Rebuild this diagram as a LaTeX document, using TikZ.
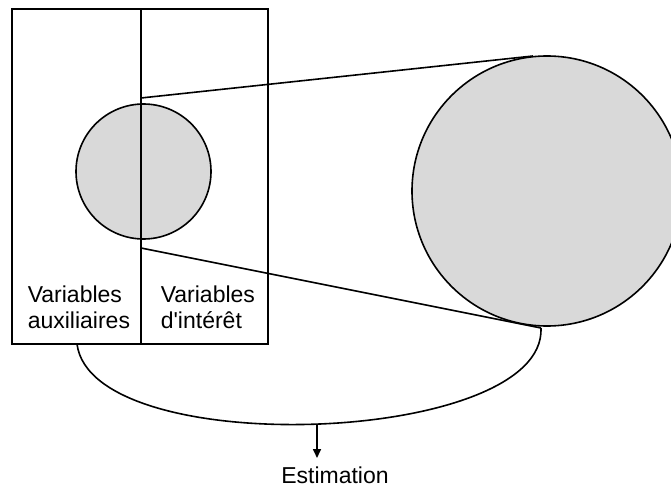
\documentclass[tikz,border=0pt]{standalone}
\usepackage{fontspec}
\setmainfont{Liberation Sans}
\usetikzlibrary{arrows.meta}
\definecolor{discgray}{HTML}{D9D9D9}
\begin{document}
\begin{tikzpicture}[x=1pt,y=-1pt, line width=1.6pt,
  lbl/.style={anchor=base west, inner sep=0pt, font=\fontsize{23}{27}\selectfont},
  disc/.style={circle, draw, fill=discgray, inner sep=0pt}]
\useasboundingbox (0,0) rectangle (671,489);
\clip (0,0) rectangle (671,489);
% discs
\node[disc, minimum size=270pt] (big) at (547,191) {};
\node[disc, minimum size=135pt] (small) at (143.5,171.5) {};
% table
\draw (12,9) rectangle (268,344);
\coordinate (dtop) at (141,9);
\coordinate (dbot) at (141,344);
\draw (dtop) -- (dbot);
% zoom lines
\coordinate (ua) at (141,98);
\coordinate (ub) at (533,56);
\coordinate (la) at (141,248);
\coordinate (lb) at (541,328);
\draw (ua) -- (ub);
\draw (la) -- (lb);
% labels
\node[lbl] (v1) at (27,302) {Variables};
\node[lbl] (a1) at (27,328) {auxiliaires};
\node[lbl] (v2) at (160,302) {Variables};
\node[lbl] (i2) at (160,328) {d\textquotesingle intérêt};
% estimation curve
\coordinate (cl) at (77,344);
\coordinate (bot) at (317,424);
\coordinate (atip) at (317,458);
\draw (cl) .. controls (92,462) and (546,445) .. (lb);
\node[anchor=base, inner sep=0pt, font=\fontsize{23}{27}\selectfont] (est) at (335,483) {Estimation};
\draw[-{Triangle[length=9pt,width=8pt]}] (bot) -- (atip);
\end{tikzpicture}
\end{document}
